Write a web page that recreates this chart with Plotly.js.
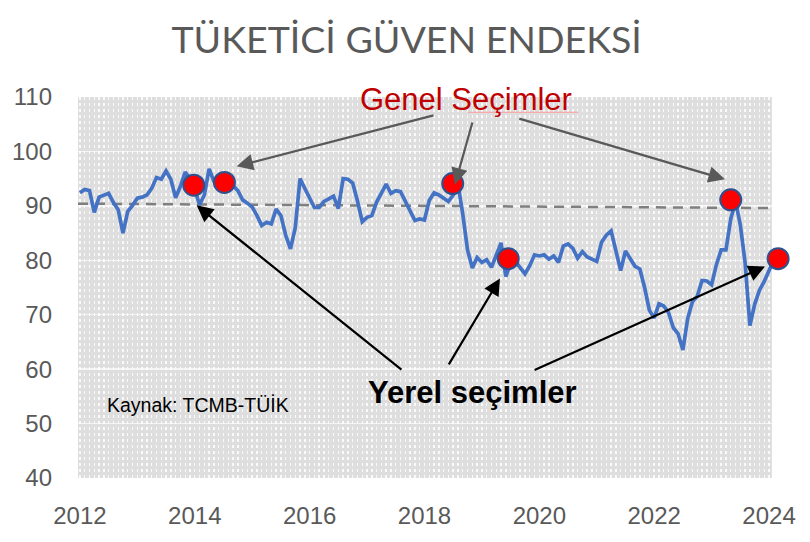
<!DOCTYPE html>
<html>
<head>
<meta charset="utf-8">
<script src="https://cdn.plot.ly/plotly-3.0.1.min.js"></script>
<style>
  html, body { margin: 0; padding: 0; background: #fff; }
  #plot { width: 810px; height: 542px; }
</style>
</head>
<body>
<div id="plot"></div>
<script>
// DATA =========================================================
// monthly index, 0 = first month of 2012
const yearLabels = ['2012', '2014', '2016', '2018', '2020', '2022', '2024'];
const yearTicks = [0, 24, 48, 72, 96, 120, 144];

const cci2012_2014 = [92.4, 93.0, 92.8, 88.8, 91.6, 92.0, 92.3, 90.6, 89.3, 85.0, 89.0, 90.1,
                      91.4, 91.6, 92.0, 93.2, 95.2, 94.9, 96.4, 94.9, 91.5, 93.6, 96.2, 95.0];
const cci2014_2016 = [93.0, 90.2, 92.0, 96.8, 94.5, 94.2, 94.3, 94.0, 93.7, 92.8, 91.1, 90.5,
                      89.8, 88.2, 86.4, 87.0, 86.7, 89.4, 88.2, 84.6, 82.1, 86.0, 95.0, 93.2];
const cci2016_2018 = [91.4, 89.7, 89.7, 90.8, 91.3, 91.8, 89.5, 95.0, 94.9, 94.2, 90.9, 87.1,
                      87.9, 88.2, 90.7, 92.5, 94.0, 92.3, 92.8, 92.6, 90.9, 89.0, 87.3, 87.6];
const cci2018_2020 = [87.4, 91.0, 92.4, 92.0, 91.3, 90.8, 92.0, 94.0, 88.5, 81.9, 78.6, 80.5,
                      79.6, 80.1, 78.7, 81.2, 83.2, 77.0, 79.5, 79.8, 78.6, 77.5, 79.0, 81.0];
const cci2020_2022 = [80.8, 81.0, 80.2, 80.8, 79.6, 82.6, 83.0, 82.2, 80.4, 81.6, 80.6, 80.2,
                      79.8, 83.3, 84.6, 85.4, 81.5, 78.1, 81.7, 80.3, 78.9, 78.4, 75.0, 70.8];
const cci2022_2024 = [69.4, 72.0, 71.6, 70.4, 67.6, 66.5, 63.5, 69.3, 72.4, 73.4, 76.3, 76.2,
                      75.5, 79.2, 81.9, 81.9, 87.6, 90.8, 86.5, 79.6, 68.0, 71.9, 74.5, 76.1,
                      78.1, 80.1];

// election dots (month index, index value)
const genelMonth = [30.2, 77.9, 136.0];
const genelValue = [94.3, 94.1, 91.1];
const yerelMonth = [23.8, 89.5, 145.9];
const yerelValue = [93.8, 80.3, 80.3];

// long run average reference line
const avgMonth = [-0.4, 144.2];
const avgValue = [90.4, 89.6];

// chart frame (month index / index value)
const frameX = [-0.4, 144.6];
const frameY = [40, 110];

// BUILD ========================================================
const cci = [].concat(cci2012_2014, cci2014_2016, cci2016_2018, cci2018_2020, cci2020_2022, cci2022_2024);
const months = cci.map((v, i) => i);

const labelFont = 'Liberation Sans, Arial, sans-serif';
const titleFont = 'Lato, Liberation Sans, sans-serif';

var data = [
  {
    x: avgMonth, y: avgValue,
    mode: 'lines',
    line: { color: '#7f7f7f', width: 2.5, dash: '10px,7px' },
    hoverinfo: 'skip'
  },
  {
    x: months, y: cci,
    mode: 'lines',
    line: { color: '#4472C4', width: 3.7 }
  },
  {
    x: genelMonth.concat(yerelMonth),
    y: genelValue.concat(yerelValue),
    mode: 'markers',
    cliponaxis: false,
    marker: { size: 21, color: '#FF0000', line: { color: '#2F528F', width: 2 } }
  }
];

function arrow(hx, hy, tx, ty, color) {
  return {
    x: hx, y: hy, ax: tx, ay: ty,
    xref: 'x', yref: 'y', axref: 'x', ayref: 'y',
    text: '', showarrow: true,
    arrowhead: 2, arrowsize: 1.5, arrowwidth: 2.2, arrowcolor: color
  };
}

var layout = {
  width: 810, height: 542,
  margin: { l: 78, r: 18, t: 97, b: 64 },
  paper_bgcolor: '#ffffff',
  plot_bgcolor: '#ffffff',
  showlegend: false,
  title: {
    text: 'TÜKETİCİ GÜVEN ENDEKSİ',
    font: { family: titleFont, size: 37.5, color: '#595959' },
    xref: 'container', x: 0.502, xanchor: 'center',
    yref: 'container', y: 0.927, yanchor: 'middle'
  },
  xaxis: {
    range: [-0.4, 148.8],
    tickmode: 'array', tickvals: yearTicks, ticktext: yearLabels,
    showgrid: false, zeroline: false, showline: false, ticks: '',
    ticklabelstandoff: 21,
    tickfont: { family: labelFont, size: 24, color: '#595959' },
    minor: { tick0: 0, dtick: 1, showgrid: true, gridcolor: 'rgba(255,255,255,0.85)', gridwidth: 1.4, griddash: 'dot' }
  },
  yaxis: {
    range: frameY,
    tickmode: 'linear', tick0: 40, dtick: 10,
    showgrid: true, gridcolor: 'rgba(255,255,255,0.65)', gridwidth: 1.5,
    zeroline: false, showline: false, ticks: '',
    ticklabelstandoff: 25,
    tickfont: { family: labelFont, size: 24, color: '#595959' }
  },
  shapes: [
    { type: 'rect', xref: 'x', yref: 'y', layer: 'below',
      x0: frameX[0], x1: frameX[1], y0: frameY[0], y1: frameY[1],
      fillcolor: '#dedede', line: { width: 0 } },
    { type: 'line', xref: 'x', yref: 'y', x0: 81.1, x1: 104.1, y0: 107.2, y1: 107.2,
      line: { color: '#ff9a9a', width: 1 } }
  ],
  annotations: [
    arrow(32.75, 97.27, 74.2, 106.7, '#595959'),
    arrow(78.37, 93.92, 82.1, 105.6, '#595959'),
    arrow(134.8, 94.88, 91.5, 106.1, '#595959'),
    arrow(24.39, 90.09, 67.5, 59.7, '#000000'),
    arrow(87.77, 76.65, 76.9, 60.6, '#000000'),
    arrow(143.16, 78.86, 94.7, 59.7, '#000000'),
    { x: 80.7, y: 109.6, xref: 'x', yref: 'y', text: 'Genel Seçimler', showarrow: false,
      font: { family: labelFont, size: 31, color: '#C00000' } },
    { x: 82.1, y: 55.8, xref: 'x', yref: 'y', text: '<b>Yerel seçimler</b>', showarrow: false,
      font: { family: labelFont, size: 31, color: '#000000' } },
    { x: 5.2, y: 53.4, xref: 'x', yref: 'y', xanchor: 'left', text: 'Kaynak: TCMB-TÜİK', showarrow: false,
      font: { family: labelFont, size: 19.5, color: '#000000' } }
  ]
};

Plotly.newPlot('plot', data, layout, { displayModeBar: false, staticPlot: true });
</script>
</body>
</html>
